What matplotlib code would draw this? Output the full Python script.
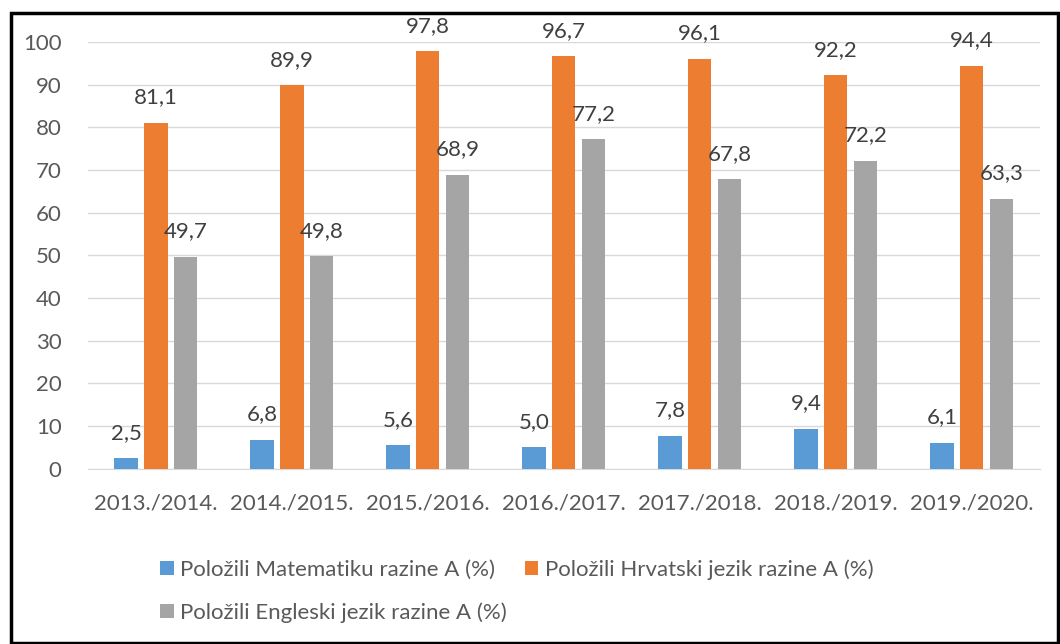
import numpy as np
import matplotlib.pyplot as plt
from matplotlib.patches import Rectangle

years = ['2013./2014.', '2014./2015.', '2015./2016.', '2016./2017.',
         '2017./2018.', '2018./2019.', '2019./2020.']
matematika = [2.5, 6.8, 5.6, 5.0, 7.8, 9.4, 6.1]
hrvatski = [81.1, 89.9, 97.8, 96.7, 96.1, 92.2, 94.4]
engleski = [49.7, 49.8, 68.9, 77.2, 67.8, 72.2, 63.3]
names = ['Položili Matematiku razine A (%)',
         'Položili Hrvatski jezik razine A (%)',
         'Položili Engleski jezik razine A (%)']
colors = ['#5B9BD5', '#ED7D31', '#A5A5A5']

plt.rcParams['font.family'] = ['Lato', 'DejaVu Sans']
txt = '#595959'
fs = 16

fig = plt.figure(figsize=(10.6, 6.44), dpi=100)
ax = fig.add_axes([0.083, 0.272, 0.898, 0.663])

x = np.arange(len(years))
w = 0.17
step = 0.22
bars = []
for i, (vals, name, c) in enumerate(zip([matematika, hrvatski, engleski], names, colors)):
    pos = x + (i - 1) * step
    bars.append(ax.bar(pos, vals, w, color=c, label=name, zorder=3))
    for p, v in zip(pos, vals):
        ax.annotate(('%.1f' % v).replace('.', ','), (p, v), xytext=(0, 11),
                    textcoords='offset points', ha='center', va='bottom',
                    fontsize=fs, color='#404040')

ax.set_ylim(0, 100)
ax.set_xlim(-0.5, len(years) - 0.5)
ax.set_yticks(range(0, 101, 10))
ax.set_xticks(x)
ax.set_xticklabels(years)
ax.tick_params(length=0, labelsize=fs, colors=txt)
ax.tick_params(axis='x', pad=18)
ax.tick_params(axis='y', pad=19)
ax.grid(axis='y', color='#D9D9D9', linewidth=1, zorder=0)
for s in ['top', 'right', 'left']:
    ax.spines[s].set_visible(False)
ax.spines['bottom'].set_color('#D9D9D9')

# order so that the legend fills row by row
order = [0, 2, 1]
leg = fig.legend([bars[k] for k in order], [names[k] for k in order],
                 loc='upper left', bbox_to_anchor=(0.143, 0.145), ncol=2,
                 frameon=False, fontsize=fs, handlelength=0.6, handleheight=0.6,
                 handletextpad=0.3, columnspacing=0.8, labelspacing=1.0,
                 borderaxespad=0)
for t in leg.get_texts():
    t.set_color(txt)

fig.patches.append(Rectangle((0.01, 0.002), 0.988, 0.978, transform=fig.transFigure,
                             fill=False, edgecolor='black', linewidth=2.5))

fig.savefig('out.png', dpi=100)
